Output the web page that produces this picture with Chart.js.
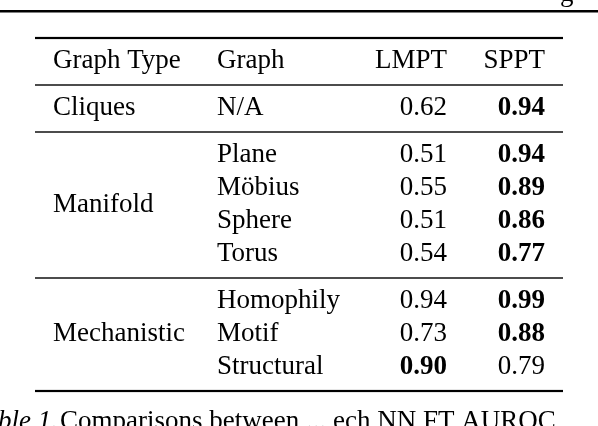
<!DOCTYPE html>
<html><head><meta charset="utf-8">
<script src="https://cdn.jsdelivr.net/npm/chart.js@4"></script>
<style>html,body{margin:0;padding:0;background:#fff}#w{width:598px;height:426px}</style>
</head><body><div id="w"><canvas id="c"></canvas></div>
<script>
const headers = ["Graph Type", "Graph", "LMPT", "SPPT"];
const groups = ["Cliques", "Manifold", "Mechanistic"];
const graphs = ["N/A", "Plane", "Möbius", "Sphere", "Torus", "Homophily", "Motif", "Structural"];
const graphGroup = [0, 1, 1, 1, 1, 2, 2, 2];
const lmpt = [0.62, 0.51, 0.55, 0.51, 0.54, 0.94, 0.73, 0.90];
const sppt = [0.94, 0.94, 0.89, 0.86, 0.77, 0.99, 0.88, 0.79];

// layout (pixels in a 598x426 coordinate space)
const rowY = [108, 155, 188, 221, 254, 301, 334, 367];
const headY = 61;
const colX = [53, 217, 447, 545];
const rules = [[38, 2.2], [85, 1.4], [132, 1.4], [278, 1.4], [391, 2.2]];
const font = "'Liberation Serif', 'DejaVu Serif', serif";
const fs = 27;

const cells = [];
headers.forEach((h, i) => cells.push({x: colX[i], y: headY, t: h, a: i < 2 ? 'left' : 'right', b: false}));
groups.forEach((g, gi) => {
  const ys = rowY.filter((_, i) => graphGroup[i] === gi);
  cells.push({x: colX[0], y: (Math.min(...ys) + Math.max(...ys)) / 2, t: g, a: 'left', b: false});
});
graphs.forEach((g, i) => {
  cells.push({x: colX[1], y: rowY[i], t: g, a: 'left', b: false});
  cells.push({x: colX[2], y: rowY[i], t: lmpt[i].toFixed(2), a: 'right', b: lmpt[i] > sppt[i]});
  cells.push({x: colX[3], y: rowY[i], t: sppt[i].toFixed(2), a: 'right', b: sppt[i] > lmpt[i]});
});

const tablePlugin = {
  id: 'table',
  afterDraw(chart) {
    const ctx = chart.ctx, xs = chart.scales.x, ys = chart.scales.y;
    ctx.save();
    ctx.fillStyle = '#000';
    ctx.fillRect(xs.getPixelForValue(0), ys.getPixelForValue(10), 598, 2.5);
    rules.forEach(([y, w]) => ctx.fillRect(xs.getPixelForValue(35), ys.getPixelForValue(y) - w / 2, xs.getPixelForValue(563) - xs.getPixelForValue(35), w));
    ctx.textBaseline = 'middle';
    const meta = chart.getDatasetMeta(0);
    meta.data.forEach((pt, i) => {
      const c = cells[i];
      ctx.font = (c.b ? 'bold ' : '') + fs + 'px ' + font;
      ctx.textAlign = c.a;
      ctx.fillText(c.t, pt.x, pt.y);
    });
    ctx.font = fs + 'px ' + font;
    ctx.textAlign = 'left';
    ctx.fillText('g', 560, -6);
    ctx.font = 'italic ' + fs + 'px ' + font;
    ctx.fillText('ble 1.', -2, 422);
    ctx.font = fs + 'px ' + font;
    ctx.fillText('Comparisons between ... ech NN FT AUROC', 60, 422);
    ctx.restore();
  }
};

new Chart(document.getElementById('c'), {
  type: 'scatter',
  data: {datasets: [{data: cells.map(c => ({x: c.x, y: c.y})), pointRadius: 0}]},
  options: {
    responsive: true, maintainAspectRatio: false, animation: false,
    layout: {padding: 0},
    plugins: {legend: {display: false}, tooltip: {enabled: false}},
    scales: {
      x: {type: 'linear', min: 0, max: 598, display: false},
      y: {type: 'linear', min: 0, max: 426, reverse: true, display: false}
    }
  },
  plugins: [tablePlugin]
});
</script></body></html>
